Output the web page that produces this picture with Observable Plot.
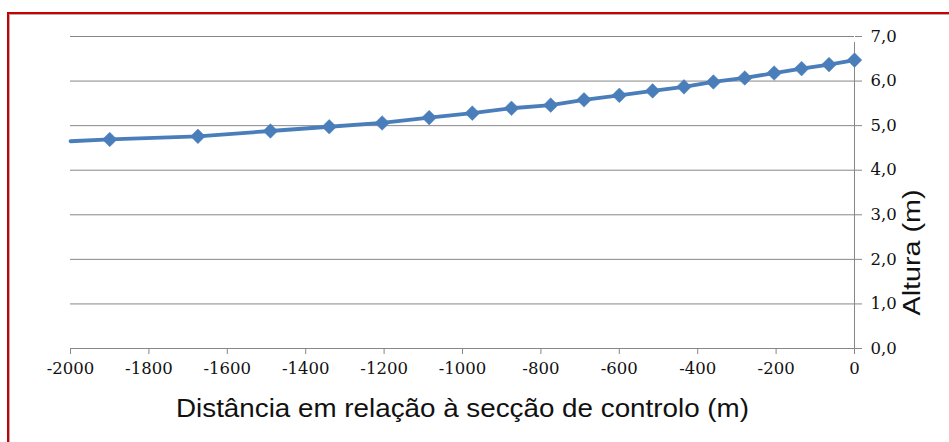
<!DOCTYPE html>
<html>
<head>
<meta charset="utf-8">
<script src="https://cdn.jsdelivr.net/npm/d3@7"></script>
<script src="https://cdn.jsdelivr.net/npm/@observablehq/plot@0.6"></script>
<style>
  html, body { margin: 0; padding: 0; background: #fff; overflow: hidden; width: 949px; height: 442px; }
  #frame { position: absolute; left: 7px; top: 12px; width: 1000px; height: 500px;
           border-top: 2px solid #cc0000; border-left: 2px solid #cc0000; }
  #inner { position: absolute; left: 0; top: 0; width: 1000px; height: 500px;
           border-top: 1px solid #b0b0b0; border-left: 1px solid #b0b0b0; }
  #chart { position: absolute; left: 0; top: 0; }
</style>
</head>
<body>
<div id="frame"><div id="inner"></div></div>
<div id="chart"></div>
<script>
// Data
const distances = [-2000, -1900, -1675, -1490, -1340, -1205, -1085, -975, -875, -775, -690, -600, -515, -435, -360, -280, -205, -135, -65, 0];
const heights   = [4.65, 4.69, 4.76, 4.88, 4.975, 5.06, 5.18, 5.28, 5.39, 5.46, 5.58, 5.68, 5.78, 5.87, 5.98, 6.07, 6.18, 6.28, 6.37, 6.47];
const xTicks = [-2000, -1800, -1600, -1400, -1200, -1000, -800, -600, -400, -200, 0];
const yTicks = [0, 1, 2, 3, 4, 5, 6, 7];
const xTitle = "Distância em relação à secção de controlo (m)";
const yTitle = "Altura (m)";

const rows = distances.map((d, i) => ({x: d, y: heights[i]}));
const markerRows = rows.slice(1); // first point (at the axis edge) drawn without marker

const grey = "#878787";
const blue = "#4a7ebb";
const tickFont = "DejaVu Serif";

const chart = Plot.plot({
  width: 949,
  height: 442,
  marginLeft: 70,
  marginRight: 95,
  marginTop: 36,
  marginBottom: 94,
  style: {background: "transparent", overflow: "visible"},
  x: {domain: [-2000, 0]},
  y: {domain: [0, 7]},
  marks: [
    Plot.ruleY(yTicks, {stroke: grey, strokeWidth: 1}),
    Plot.ruleX([0], {y1: 0, y2: 7, stroke: grey, strokeWidth: 1, insetBottom: -6}),
    Plot.axisY(yTicks, {
      anchor: "right", tickSize: 7, tickPadding: 9, stroke: grey, fill: "#111",
      tickFormat: d => d.toFixed(1).replace(".", ","),
      fontSize: 16.5, fontFamily: tickFont, label: null
    }),
    Plot.axisX(xTicks, {
      anchor: "bottom", tickSize: 6, tickPadding: 8, stroke: grey, fill: "#111",
      tickFormat: d => String(d),
      fontSize: 16.5, fontFamily: tickFont, label: null
    }),
    Plot.line(rows, {x: "x", y: "y", stroke: blue, strokeWidth: 3.8}),
    Plot.dot(markerRows, {x: "x", y: "y", symbol: "diamond2", r: 6.6, fill: blue, stroke: blue, strokeWidth: 0.5}),
    Plot.text([xTitle], {frameAnchor: "bottom", dy: 60, lineAnchor: "middle", fontSize: 25,
      fontFamily: "Liberation Sans", fill: "#111"}),
    Plot.text([yTitle], {frameAnchor: "right", dx: 58, dy: -3, rotate: -90, lineAnchor: "middle",
      fontSize: 23, fontFamily: "Liberation Sans", fill: "#111"})
  ]
});
document.getElementById("chart").appendChild(chart);

// stretch the titles to the reference widths
d3.select(chart).selectAll("text").each(function() {
  const t = d3.select(this).text();
  if (t === xTitle) d3.select(this).attr("textLength", 573).attr("lengthAdjust", "spacingAndGlyphs");
  if (t === yTitle) d3.select(this).attr("textLength", 126).attr("lengthAdjust", "spacingAndGlyphs");
});
</script>
</body>
</html>
